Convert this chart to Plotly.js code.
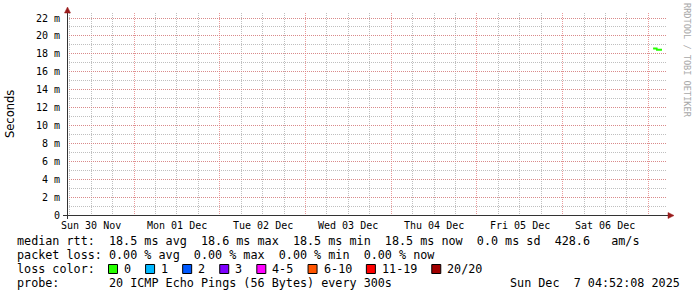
<!DOCTYPE html>
<html>
<head>
<meta charset="utf-8">
<script src="https://cdn.plot.ly/plotly-3.0.1.min.js"></script>
<style>html,body{margin:0;padding:0;background:#fff;}#chart{width:697px;height:297px;}</style>
</head>
<body>
<div id="chart"></div>
<script>
// ---- data ----
var dataTimes = ['2025-12-07 01:20','2025-12-07 01:40','2025-12-07 02:00','2025-12-07 02:20',
                 '2025-12-07 02:25','2025-12-07 02:50','2025-12-07 03:10','2025-12-07 03:30','2025-12-07 03:50'];
var medianRtt = [18.6, 18.6, 18.6, 18.6, 18.45, 18.45, 18.45, 18.45, 18.45];

var xTickDates = ['2025-11-30 12:00','2025-12-01 12:00','2025-12-02 12:00','2025-12-03 12:00',
                  '2025-12-04 12:00','2025-12-05 12:00','2025-12-06 12:00'];
var xTickLabels = ['Sun 30 Nov','Mon 01 Dec','Tue 02 Dec','Wed 03 Dec','Thu 04 Dec','Fri 05 Dec','Sat 06 Dec'];
var yTickVals = [0,2,4,6,8,10,12,14,16,18,20,22];
var yTickText = ['0','2 m','4 m','6 m','8 m','10 m','12 m','14 m','16 m','18 m','20 m','22 m'];

var rttStats = ['18.5 ms avg','18.6 ms max','18.5 ms min','18.5 ms now','0.0 ms sd','428.6   am/s'];
var lossStats = ['0.00 % avg','0.00 % max','0.00 % min','0.00 % now'];
var lossLabels = ['0','1','2','3','4-5','6-10','11-19','20/20'];
var lossColors = ['#26ff00','#00b8ff','#0059ff','#7e00ff','#ff00ff','#ff5500','#ff0000','#a10000'];
var probeText = '20 ICMP Echo Pings (56 Bytes) every 300s';
var dateText = 'Sun Dec  7 04:52:08 2025';

// ---- layout helpers ----
var L = 67, R = 667, T = 13, B = 215;
function px(x){ return (x - L) / (R - L); }
function py(y){ return (B - y) / (B - T); }
function nb(s){ return s.replace(/ /g, '\u00a0'); }
var MONO = 'DejaVu Sans Mono';
var CW = 7.08; // char advance of legend font

var annotations = [];
var shapes = [];

// x tick labels
for (var i = 0; i < xTickDates.length; i++) {
  annotations.push({x: xTickDates[i], xref: 'x', y: py(225), yref: 'paper', text: nb(xTickLabels[i]),
    showarrow: false, xanchor: 'center', yanchor: 'middle', borderpad: 0,
    font: {family: MONO, size: 10, color: '#000'}});
}

function textAt(xpix, ypix, s, anchor) {
  annotations.push({x: px(xpix), xref: 'paper', y: py(ypix), yref: 'paper', text: nb(s),
    showarrow: false, xanchor: anchor || 'left', yanchor: 'middle', borderpad: 0,
    font: {family: MONO, size: 11.75, color: '#000'}});
}
textAt(16, 241, 'median rtt:  ' + rttStats.join('  '));
textAt(16, 255, 'packet loss: ' + lossStats.join('  '));
textAt(16, 269, 'loss color:');
textAt(16, 283, 'probe:       ' + probeText);
textAt(681, 283, dateText, 'right');

// loss colour boxes
var bx = 108;
for (var k = 0; k < lossLabels.length; k++) {
  shapes.push({type: 'rect', xref: 'paper', yref: 'paper', x0: px(bx + 0.5), x1: px(bx + 9.5),
    y0: py(264.5), y1: py(273.5), fillcolor: lossColors[k], line: {color: '#000', width: 1}});
  textAt(bx + 15, 269, lossLabels[k]);
  bx = bx + 15 + lossLabels[k].length * CW + 15;
}

// axis lines and arrows
shapes.push({type: 'line', xref: 'paper', yref: 'paper', x0: px(63), x1: px(669), y0: py(215.5), y1: py(215.5),
  line: {color: '#333', width: 1}});
shapes.push({type: 'line', xref: 'paper', yref: 'paper', x0: px(67.5), x1: px(67.5), y0: py(219), y1: py(12),
  line: {color: '#333', width: 1}});
shapes.push({type: 'path', xref: 'paper', yref: 'paper',
  path: 'M' + px(67.5) + ',' + py(7) + ' L' + px(64.5) + ',' + py(13) + ' L' + px(70.5) + ',' + py(13) + ' Z',
  fillcolor: '#9a1c1c', line: {color: '#9a1c1c', width: 0.5}});
shapes.push({type: 'path', xref: 'paper', yref: 'paper',
  path: 'M' + px(674) + ',' + py(215.5) + ' L' + px(668) + ',' + py(212.5) + ' L' + px(668) + ',' + py(218.5) + ' Z',
  fillcolor: '#9a1c1c', line: {color: '#9a1c1c', width: 0.5}});

// side texts
annotations.push({x: px(10), xref: 'paper', y: py(114), yref: 'paper', text: 'Seconds', textangle: -90,
  showarrow: false, xanchor: 'center', yanchor: 'middle', borderpad: 0,
  font: {family: 'DejaVu Sans', size: 11.5, color: '#000'}});
annotations.push({x: px(687), xref: 'paper', y: py(60), yref: 'paper', text: nb('RRDTOOL / TOBI OETIKER'), textangle: 90,
  showarrow: false, xanchor: 'center', yanchor: 'middle', borderpad: 0,
  font: {family: MONO, size: 8.6, color: '#a8a8a8'}});

var trace = {x: dataTimes, y: medianRtt, type: 'scatter', mode: 'lines',
  line: {color: '#26ff00', width: 2}, hoverinfo: 'skip'};

var majorGrid = 'rgba(225,120,120,0.75)';
var minorGrid = 'rgba(170,170,170,0.75)';

var layout = {
  width: 697, height: 297,
  margin: {l: L, r: 697 - R, t: T, b: 297 - B, pad: 0},
  paper_bgcolor: '#fff', plot_bgcolor: '#fff',
  showlegend: false,
  xaxis: {type: 'date', range: ['2025-11-30 05:14', '2025-12-07 05:14'],
    tickmode: 'linear', tick0: '2025-11-30 00:00', dtick: 86400000,
    showticklabels: false, ticks: '', showline: false, zeroline: false,
    showgrid: true, gridcolor: majorGrid, griddash: '1px,1px', gridwidth: 1,
    minor: {tick0: '2025-11-30 00:00', dtick: 21600000, showgrid: true, gridcolor: minorGrid, griddash: '1px,1px', gridwidth: 1, ticks: ''}},
  yaxis: {range: [0, 22.558], tickmode: 'array', tickvals: yTickVals, ticktext: yTickText,
    ticks: 'outside', ticklen: 4, tickcolor: 'rgba(0,0,0,0)', showline: false, zeroline: false,
    tickfont: {family: MONO, size: 10, color: '#000'},
    showgrid: true, gridcolor: majorGrid, griddash: '1px,1px', gridwidth: 1,
    minor: {tickmode: 'linear', tick0: 0, dtick: 1, showgrid: true, gridcolor: minorGrid, griddash: '1px,1px', gridwidth: 1, ticks: ''}},
  annotations: annotations,
  shapes: shapes
};

Plotly.newPlot('chart', [trace], layout, {staticPlot: true, displayModeBar: false});
</script>
</body>
</html>
